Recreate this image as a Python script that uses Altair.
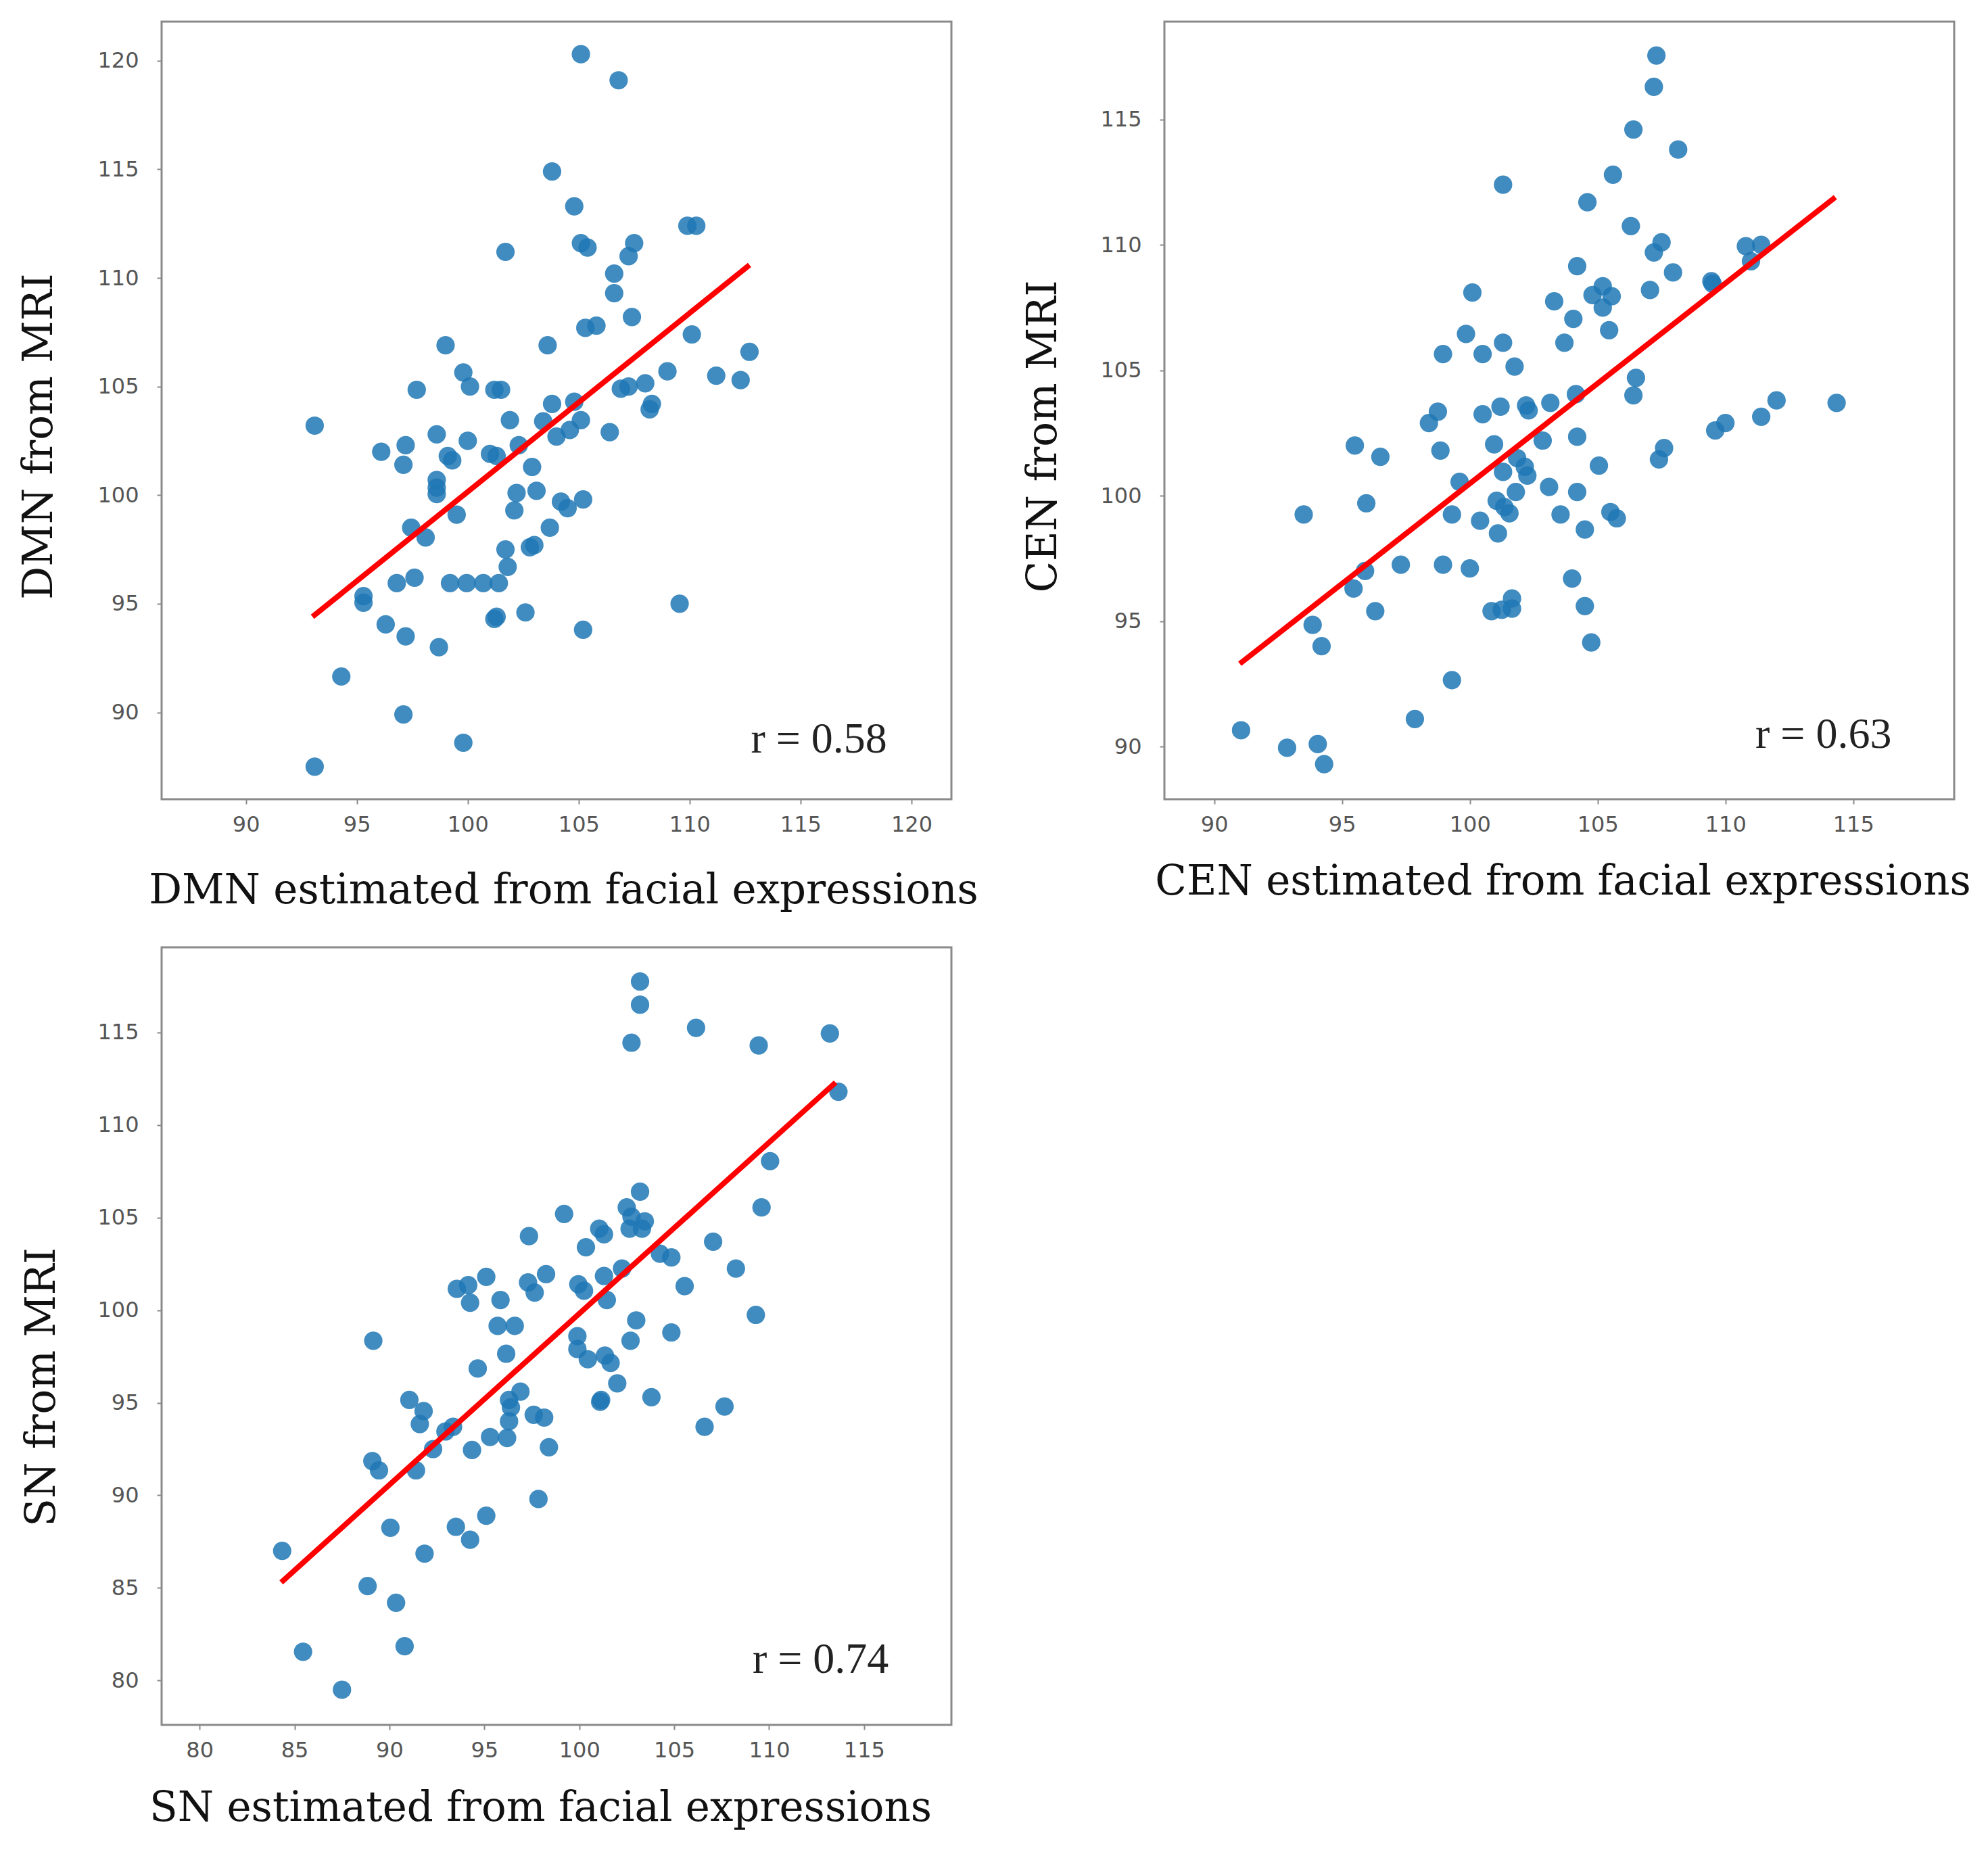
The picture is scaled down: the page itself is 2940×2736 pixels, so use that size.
import altair as alt
import pandas as pd

# ---- DMN panel ----
dmn_est = [103.8, 101.7, 99.0, 103.6, 99.8, 100.1, 97.7, 101.2, 101.5, 103.8,
           105.1, 106.8, 104.8, 105.1, 105.4, 109.9, 110.3, 107.5, 107.25, 106.6,
           106.6, 105.3, 105.8, 107.4, 110.1, 112.7, 109.0, 111.2, 112.3, 106.9,
           107.25, 108.0, 108.3, 108.2, 104.8, 93.1, 96.1, 97.2, 97.1, 98.6,
           99.1, 99.3, 100.0, 101.0, 101.3, 101.9, 102.3, 102.9, 98.6, 98.6,
           98.6, 99.5, 97.45, 98.1, 102.2, 103.1, 102.1, 103.7, 102.8, 103.0,
           101.7, 101.8, 95.3, 95.3, 96.8, 97.6, 99.2, 99.95, 100.7, 101.4,
           96.3, 97.2, 98.7, 101.2, 101.3, 102.6, 94.3, 97.1, 99.8, 93.1,
           103.4, 104.0, 104.6, 105.1, 106.4, 104.2, 104.5, 105.2, 109.55, 105.2]
dmn_mri = [114.9, 111.2, 106.9, 106.9, 105.65, 105.0, 104.85, 104.85, 104.85, 104.2,
           120.3, 119.1, 113.3, 111.6, 111.4, 112.4, 112.4, 111.6, 111.0, 110.2,
           109.3, 107.7, 107.8, 108.2, 107.4, 106.6, 105.7, 105.5, 105.3, 104.9,
           105.0, 105.15, 104.2, 103.95, 104.3, 103.2, 102.0, 102.3, 101.4, 102.8,
           101.8, 101.6, 102.5, 101.9, 101.8, 103.45, 102.3, 101.3, 100.7, 100.35,
           100.05, 99.1, 98.5, 98.05, 100.1, 100.2, 99.3, 98.5, 97.6, 97.7,
           97.5, 96.7, 95.35, 95.05, 95.95, 96.2, 95.95, 95.95, 95.95, 95.95,
           94.05, 93.5, 93.0, 94.3, 94.4, 94.6, 91.65, 89.9, 88.6, 87.5,
           103.4, 102.7, 103.0, 103.45, 102.9, 99.7, 99.4, 99.8, 95.0, 93.8]
dmn_fit_x = [93.0, 112.7]
dmn_fit_y = [94.4, 110.6]

# ---- CEN panel ----
cen_est = [101.3, 100.1, 103.3, 99.85, 98.95, 100.5, 101.3, 101.75, 103.7, 107.3,
           107.2, 106.4, 108.15, 105.6, 104.6, 106.3, 107.5, 107.2, 110.8, 111.4,
           111.0, 104.2, 107.95, 109.45, 109.5, 105.2, 104.8, 105.55, 105.2, 107.05,
           104.05, 105.45, 106.5, 106.4, 104.15, 112.0, 114.35, 111.4, 109.6, 110.0,
           107.4, 107.6, 104.2, 105.05, 104.2, 103.55, 105.5, 105.75, 104.5, 104.0,
           104.5, 104.75, 98.4, 98.75, 100.5, 101.2, 102.2, 102.3, 103.15, 95.5,
           96.5, 98.85, 100.95, 102.85, 99.6, 101.3, 101.85, 102.15, 102.25, 103.1,
           101.8, 101.05, 101.35, 101.55, 99.3, 100.4, 101.1, 95.95, 93.5, 95.9,
           95.45, 97.3, 98.95, 100.0, 100.85, 101.25, 101.65, 101.65, 96.3, 93.85,
           94.2, 99.3, 97.85, 91.05, 92.85, 94.05, 94.3]
cen_mri = [112.4, 108.1, 107.75, 106.45, 105.65, 105.65, 106.1, 105.15, 106.1, 117.55,
           116.3, 114.6, 113.8, 112.8, 111.7, 110.75, 110.1, 109.7, 109.95, 110.0,
           109.35, 109.15, 108.9, 108.55, 108.45, 108.35, 108.0, 107.95, 107.5, 108.2,
           107.05, 106.6, 104.7, 104.0, 104.05, 103.8, 103.7, 103.15, 102.6, 102.9,
           101.45, 101.9, 102.35, 101.2, 100.15, 99.25, 99.35, 99.1, 98.65, 96.7,
           95.6, 94.15, 102.9, 103.35, 103.25, 103.55, 103.6, 103.4, 103.7, 102.0,
           101.55, 101.8, 102.05, 102.2, 100.55, 100.95, 101.5, 101.15, 100.8, 100.35,
           100.15, 99.8, 99.55, 99.3, 99.25, 99.0, 98.5, 99.7, 99.25, 97.0,
           96.3, 97.25, 97.25, 97.1, 95.4, 95.45, 95.9, 95.5, 95.4, 94.85,
           94.0, 92.65, 91.1, 90.65, 89.95, 90.1, 89.3]
cen_fit_x = [91.0, 114.3]
cen_fit_y = [93.3, 111.9]

# ---- SN panel ----
sn_est = [99.2, 97.35, 93.55, 94.15, 95.1, 94.25, 95.85, 98.25, 97.3, 97.65,
          95.7, 96.6, 89.15, 94.65, 96.15, 91.05, 91.8, 91.6, 92.95, 93.35,
          92.3, 91.4, 89.1, 89.45, 94.35, 95.3, 96.2, 96.9, 96.3, 96.4,
          96.3, 97.6, 98.15, 98.4, 97.85, 95.1, 93.5, 94.25, 90.05, 91.85,
          84.35, 88.85, 90.35, 90.8, 85.45, 87.5, 103.2, 103.2, 102.75, 106.15,
          109.45, 113.2, 113.65, 110.05, 109.6, 103.2, 102.5, 102.75, 103.45, 102.65,
          103.3, 101.05, 101.3, 100.35, 107.05, 104.25, 104.85, 108.25, 102.25, 101.3,
          99.95, 100.25, 105.55, 101.45, 103.0, 109.3, 104.85, 99.9, 99.9, 102.7,
          100.45, 101.35, 101.65, 102.0, 101.1, 101.15, 103.8, 107.65, 106.6]
sn_mri = [105.2, 104.0, 101.15, 101.35, 101.8, 100.4, 100.55, 101.95, 101.5, 100.95,
          99.15, 99.15, 98.35, 96.85, 97.65, 95.15, 94.55, 93.85, 93.45, 93.7,
          92.5, 91.35, 91.85, 91.35, 92.45, 93.15, 93.1, 95.6, 95.15, 94.75,
          94.0, 94.35, 94.2, 92.6, 89.8, 88.9, 88.3, 87.6, 88.25, 86.85,
          87.0, 85.1, 84.2, 81.85, 81.55, 79.5, 117.75, 116.5, 114.45, 115.25,
          114.3, 114.95, 111.8, 108.05, 105.55, 106.4, 105.55, 105.05, 104.8, 104.4,
          104.4, 104.4, 104.1, 103.4, 103.7, 103.05, 102.85, 102.25, 102.25, 101.85,
          101.4, 101.05, 101.3, 100.55, 99.45, 99.75, 98.8, 98.6, 97.9, 98.35,
          97.35, 97.55, 97.15, 96.05, 95.05, 95.15, 95.3, 94.8, 93.7]
sn_fit_x = [84.3, 113.5]
sn_fit_y = [85.3, 112.3]

r_labels = ["r = 0.58", "r = 0.63", "r = 0.74"]

PANEL_W = 1168
PANEL_H = 1150
TITLE_FONT = "DejaVu Serif"
LABEL_FONT = "DejaVu Sans"


def panel(est, mri, fit_x, fit_y, dom_x, dom_y, ticks_x, ticks_y,
          x_title, y_title, r_label, r_at, x_title_at, y_title_at):
    pts = pd.DataFrame({"est": est, "mri": mri})
    fit = pd.DataFrame({"est": fit_x, "mri": fit_y})
    lab = pd.DataFrame({"est": [r_at[0]], "mri": [r_at[1]], "t": [r_label]})

    xs = alt.Scale(domain=dom_x, nice=False, zero=False)
    ys = alt.Scale(domain=dom_y, nice=False, zero=False)
    xax = alt.Axis(values=ticks_x, title=x_title, titleX=x_title_at[0],
                   titleY=x_title_at[1], titleAlign="center",
                   titleBaseline="alphabetic", labelPadding=15)
    yax = alt.Axis(values=ticks_y, title=y_title, titleX=y_title_at[0],
                   titleY=y_title_at[1], titleAlign="center",
                   titleBaseline="middle", titleAngle=270, labelPadding=27)
    x = alt.X("est:Q", scale=xs, axis=xax)
    y = alt.Y("mri:Q", scale=ys, axis=yax)

    dots = alt.Chart(pts).mark_circle(size=740, color="#1f77b4",
                                      opacity=0.85).encode(x=x, y=y)
    line = alt.Chart(fit).mark_line(color="#ff0000", strokeWidth=8,
                                    strokeCap="butt").encode(x=x, y=y)
    txt = alt.Chart(lab).mark_text(align="right", baseline="alphabetic",
                                   font="Liberation Serif", fontSize=64,
                                   color="#222222").encode(x=x, y=y, text="t:N")
    return alt.layer(dots, line, txt).properties(width=PANEL_W, height=PANEL_H)


p_dmn = panel(dmn_est, dmn_mri, dmn_fit_x, dmn_fit_y,
              [86.2, 121.8], [86.0, 121.8],
              [90, 95, 100, 105, 110, 115, 120], [90, 95, 100, 105, 110, 115, 120],
              "DMN estimated from facial expressions", "DMN from MRI",
              r_labels[0], (118.9, 88.15), (594, 153), (-181, 613))

p_cen = panel(cen_est, cen_mri, cen_fit_x, cen_fit_y,
              [88.05, 118.95], [87.9, 118.9],
              [90, 95, 100, 105, 110, 115], [90, 95, 100, 105, 110, 115],
              "CEN estimated from facial expressions", "CEN from MRI",
              r_labels[1], (116.5, 89.95), (589, 140), (-179, 613))

p_sn = panel(sn_est, sn_mri, sn_fit_x, sn_fit_y,
             [78.0, 119.6], [77.6, 119.6],
             [80, 85, 90, 95, 100, 105, 110, 115], [80, 85, 90, 95, 100, 105, 110, 115],
             "SN estimated from facial expressions", "SN from MRI",
             r_labels[2], (116.3, 80.4), (560, 141), (-177, 650))

chart = alt.concat(p_dmn, p_cen, p_sn, columns=2,
                   spacing={"row": 219, "column": 315},
                   bounds="flush").properties(
    padding={"left": 25, "top": 30, "right": 10, "bottom": 10},
    background="white",
).configure_view(
    stroke="#8a8a8a", strokeWidth=3
).configure_axis(
    grid=False, domain=False,
    tickColor="#8a8a8a", tickSize=7, tickWidth=2,
    labelFont=LABEL_FONT, labelFontSize=32, labelColor="#555555",
    labelFlush=False,
    titleFont=TITLE_FONT, titleFontSize=61, titleFontWeight="normal",
    titleColor="#111111",
)

chart.save("out.html", embed_options={"renderer": "svg", "actions": False})
